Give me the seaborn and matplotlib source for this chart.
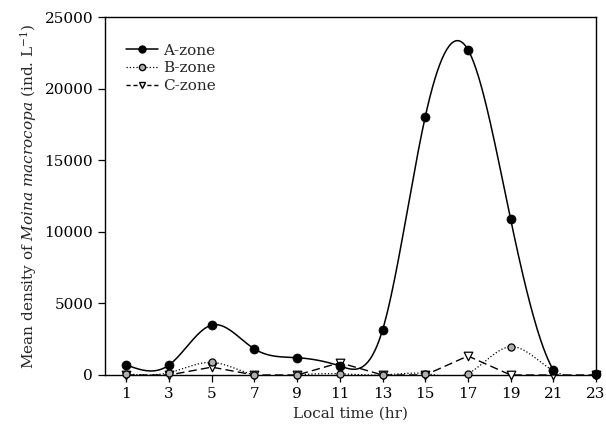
"""
Mean density of Moina macrocopa by local time, three zones
"""
import numpy as np
import pandas as pd
import matplotlib
matplotlib.use("Agg")
import matplotlib.pyplot as plt
from matplotlib.lines import Line2D
import seaborn as sns

# data
hours = [1, 3, 5, 7, 9, 11, 13, 15, 17, 19, 21, 23]
a_zone = [700, 700, 3490, 1820, 1210, 630, 3140, 18040, 22740, 10890, 350, 100]
b_zone = [70, 160, 880, 0, 0, 80, 0, 100, 100, 1980, 300, 0]
c_zone = [0, 0, 550, 0, 0, 860, 0, 0, 1330, 0, 0, 0]
xticks = [1, 3, 5, 7, 9, 11, 13, 15, 17, 19, 21, 23]
yticks = [0, 5000, 10000, 15000, 20000, 25000]


def natural_spline(x, y, n=400):
    # natural cubic spline through the measured points (for the smooth curve only)
    x = np.asarray(x, float)
    y = np.asarray(y, float)
    k = len(x)
    h = np.diff(x)
    m = np.zeros((k, k))
    r = np.zeros(k)
    m[0, 0] = m[-1, -1] = 1
    for i in range(1, k - 1):
        m[i, i - 1] = h[i - 1]
        m[i, i] = 2 * (h[i - 1] + h[i])
        m[i, i + 1] = h[i]
        r[i] = 3 * ((y[i + 1] - y[i]) / h[i] - (y[i] - y[i - 1]) / h[i - 1])
    c = np.linalg.solve(m, r)
    xs = np.linspace(x[0], x[-1], n)
    idx = np.clip(np.searchsorted(x, xs) - 1, 0, k - 2)
    dx = xs - x[idx]
    b = (y[1:] - y[:-1]) / h - h * (2 * c[:-1] + c[1:]) / 3
    d = (c[1:] - c[:-1]) / (3 * h)
    ys = y[idx] + b[idx] * dx + c[idx] * dx ** 2 + d[idx] * dx ** 3
    return xs, ys


sns.set_style("ticks")
plt.rcParams['font.family'] = ['DejaVu Serif']
plt.rcParams['mathtext.fontset'] = 'dejavuserif'
plt.rcParams['font.size'] = 11

fig, ax = plt.subplots(figsize=(6.06, 4.43), dpi=100)
fig.subplots_adjust(left=0.1733, right=0.9835, top=0.961, bottom=0.1535)

df = pd.DataFrame({'hour': hours, 'A': a_zone, 'B': b_zone, 'C': c_zone})

# A-zone: solid smooth curve
xa, ya = natural_spline(df['hour'], df['A'])
sns.lineplot(x=xa, y=ya, color='black', lw=1.1, ax=ax, sort=False)
# B-zone: dotted smooth curve
xb, yb = natural_spline(df['hour'], df['B'])
sns.lineplot(x=xb, y=yb, color='black', lw=0.9, linestyle=':', ax=ax, sort=False)
# C-zone: dashed straight segments
sns.lineplot(data=df, x='hour', y='C', color='black', lw=1.0, ax=ax,
             linestyle=(0, (6, 3)), sort=False)

sns.scatterplot(data=df, x='hour', y='C', marker='v', s=38, facecolor='white',
                edgecolor='black', linewidth=0.9, ax=ax, zorder=4, clip_on=False)
sns.scatterplot(data=df, x='hour', y='B', marker='o', s=26, color='#b0b0b0',
                edgecolor='black', linewidth=0.9, ax=ax, zorder=5, clip_on=False)
sns.scatterplot(data=df, x='hour', y='A', marker='o', s=42, color='black',
                edgecolor='black', ax=ax, zorder=6, clip_on=False)

ax.set_xlim(0, 23)
ax.set_ylim(0, 25000)
ax.set_xticks(xticks)
ax.set_yticks(yticks)
for s in ax.spines.values():
    s.set_linewidth(1.0)
    s.set_color('black')
ax.tick_params(direction='out', length=5, width=0.9, colors='black', labelsize=11)

ax.set_xlabel('Local time (hr)', fontsize=11)
ax.set_ylabel(r'Mean density of $\it{Moina\ macrocopa}$ (ind. L$^{-1}$)', fontsize=11)

handles = [
    Line2D([], [], color='black', lw=1.1, marker='o', markersize=5,
           markerfacecolor='black'),
    Line2D([], [], color='black', lw=0.9, linestyle=':', marker='o', markersize=4.5,
           markerfacecolor='#b0b0b0', markeredgecolor='black'),
    Line2D([], [], color='black', lw=1.0, linestyle=(0, (3, 2)), marker='v',
           markersize=5, markerfacecolor='white', markeredgecolor='black'),
]
ax.legend(handles, ['A-zone', 'B-zone', 'C-zone'], loc='upper left', frameon=False,
          handlelength=2.1, handletextpad=0.3, labelspacing=0.25,
          bbox_to_anchor=(0.015, 0.965), fontsize=11)

plt.savefig('out.png', dpi=100)
